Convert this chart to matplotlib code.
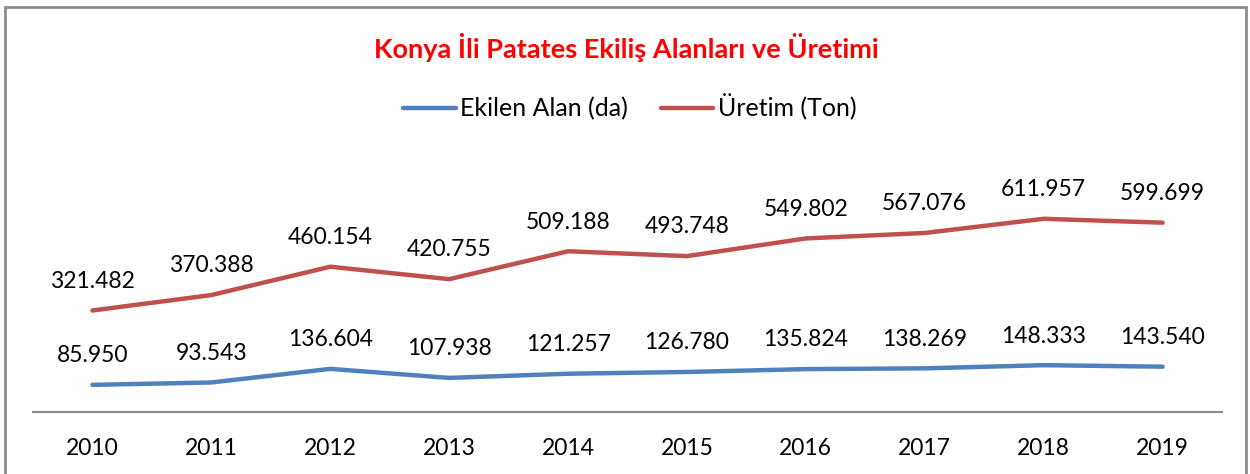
import matplotlib.pyplot as plt
from matplotlib.patches import Rectangle

# Veriler
yillar = ["2010", "2011", "2012", "2013", "2014", "2015", "2016", "2017", "2018", "2019"]
ekilen_alan = [85950, 93543, 136604, 107938, 121257, 126780, 135824, 138269, 148333, 143540]
uretim = [321482, 370388, 460154, 420755, 509188, 493748, 549802, 567076, 611957, 599699]

W, H = 1250, 474
plt.rcParams['font.family'] = ['Lato', 'DejaVu Sans']

fig = plt.figure(figsize=(W / 100, H / 100), dpi=100)

# dis cerceve
fig.patches.append(Rectangle((5 / W, -0.05), (1246 - 5) / W, 1.05 - 7 / H,
                             transform=fig.transFigure, fill=False,
                             edgecolor='#8c8c8c', linewidth=2))

ax = fig.add_axes([33 / W, 1 - 412 / H, (1222 - 33) / W, (412 - 191) / H])

x = range(len(yillar))
mavi = '#4F81BD'
kirmizi = '#C0504D'
ax.plot(x, ekilen_alan, color=mavi, linewidth=3.2, solid_capstyle='round', label='Ekilen Alan (da)')
ax.plot(x, uretim, color=kirmizi, linewidth=3.2, solid_capstyle='round', label='Üretim (Ton)')

def fmt(v):
    return f"{v:,}".replace(",", ".")

for i in x:
    ax.annotate(fmt(ekilen_alan[i]), (i, ekilen_alan[i]), xytext=(0, 21),
                textcoords='offset points', ha='center', va='center', fontsize=16.5)
    ax.annotate(fmt(uretim[i]), (i, uretim[i]), xytext=(0, 21),
                textcoords='offset points', ha='center', va='center', fontsize=16.5)

ax.set_xlim(-0.5, len(yillar) - 0.5)
ax.set_ylim(0, 700000)
ax.set_xticks(list(x))
ax.set_xticklabels(yillar, fontsize=16.5)
ax.tick_params(axis='x', length=0, pad=19)
ax.set_yticks([])
for s in ['top', 'right', 'left']:
    ax.spines[s].set_visible(False)
ax.spines['bottom'].set_color('#8c8c8c')
ax.spines['bottom'].set_linewidth(1.5)

fig.text(626 / W, 1 - 47 / H, "Konya İli Patates Ekiliş Alanları ve Üretimi",
         ha='center', va='center', fontsize=19.5, fontweight='bold', color='#FF0000')

fig.legend(loc='center', bbox_to_anchor=(630 / W, 1 - 107 / H), ncol=2, frameon=False,
           fontsize=18, handlelength=2.1, handletextpad=0.2, columnspacing=1.3)

fig.savefig('out.png', dpi=100)
